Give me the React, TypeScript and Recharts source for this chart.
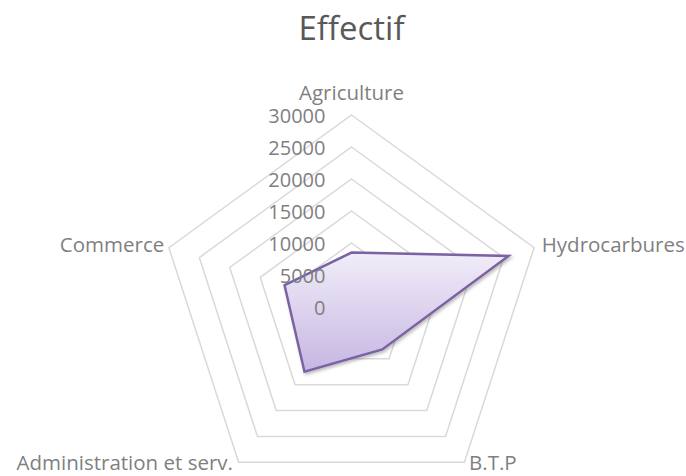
import { RadarChart, Radar, PolarGrid, PolarAngleAxis, PolarRadiusAxis } from "recharts";

const categories = ["Agriculture", "Hydrocarbures", "B.T.P", "Administration et serv.", "Commerce"];
const effectif = [8500, 25800, 8200, 12500, 11000];

const data = categories.map((name, i) => ({ name, effectif: effectif[i] }));

const FONT = "'Open Sans', sans-serif";
const TEXT = "#7f7f7f";

// small nudges so the labels sit like the Excel original
const angleNudge = [
  { dx: 0, dy: -15 },
  { dx: 0, dy: -1 },
  { dx: 0, dy: -7 },
  { dx: -1, dy: -7 },
  { dx: 3, dy: -1 },
];

function AngleTick(props: any) {
  const { x, y, textAnchor, payload, index } = props;
  const n = angleNudge[index] || { dx: 0, dy: 0 };
  return (
    <text x={x + n.dx} y={y + n.dy} textAnchor={textAnchor} dominantBaseline="central"
      fill={TEXT} fontSize={20.5} fontFamily={FONT}>
      {payload.value}
    </text>
  );
}

function RadiusTick(props: any) {
  const { x, y, payload } = props;
  return (
    <text x={x - 26} y={y} textAnchor="end" dominantBaseline="central"
      fill={TEXT} fontSize={20} fontFamily={FONT}>
      {payload.value}
    </text>
  );
}

export default function App() {
  return (
    <div style={{ position: "absolute", left: 0, top: 0, width: 686, height: 476, background: "#fff" }}>
      <div style={{
        position: "absolute", left: 0, top: 12, width: 703, textAlign: "center",
        fontFamily: FONT, fontSize: 33, lineHeight: "32px", color: "#595959",
      }}>
        Effectif
      </div>
      <RadarChart width={686} height={476} data={data} cx={351.5} cy={307} outerRadius={192}
        margin={{ top: 0, right: 0, bottom: 0, left: 0 }}>
        <defs>
          <linearGradient id="fillGrad" x1="0" y1="0" x2="0" y2="1">
            <stop offset="0%" stopColor="#f1edf8" />
            <stop offset="100%" stopColor="#c6b6e3" />
          </linearGradient>
          <filter id="shadow" x="-10%" y="-10%" width="130%" height="130%">
            <feDropShadow dx="1.5" dy="2" stdDeviation="1.5" floodColor="#000" floodOpacity="0.25" />
          </filter>
        </defs>
        <PolarGrid gridType="polygon" radialLines={false} stroke="#d9d9d9" strokeWidth={1.5} />
        <PolarAngleAxis dataKey="name" tick={AngleTick} tickLine={false} axisLine={false} />
        <PolarRadiusAxis angle={90} domain={[0, 30000]} tickCount={7} tick={RadiusTick}
          axisLine={false} tickLine={false} />
        <Radar dataKey="effectif" stroke="#7b62a3" strokeWidth={2.5} fill="url(#fillGrad)" fillOpacity={1}
          isAnimationActive={false} style={{ filter: "url(#shadow)" }} />
      </RadarChart>
    </div>
  );
}
